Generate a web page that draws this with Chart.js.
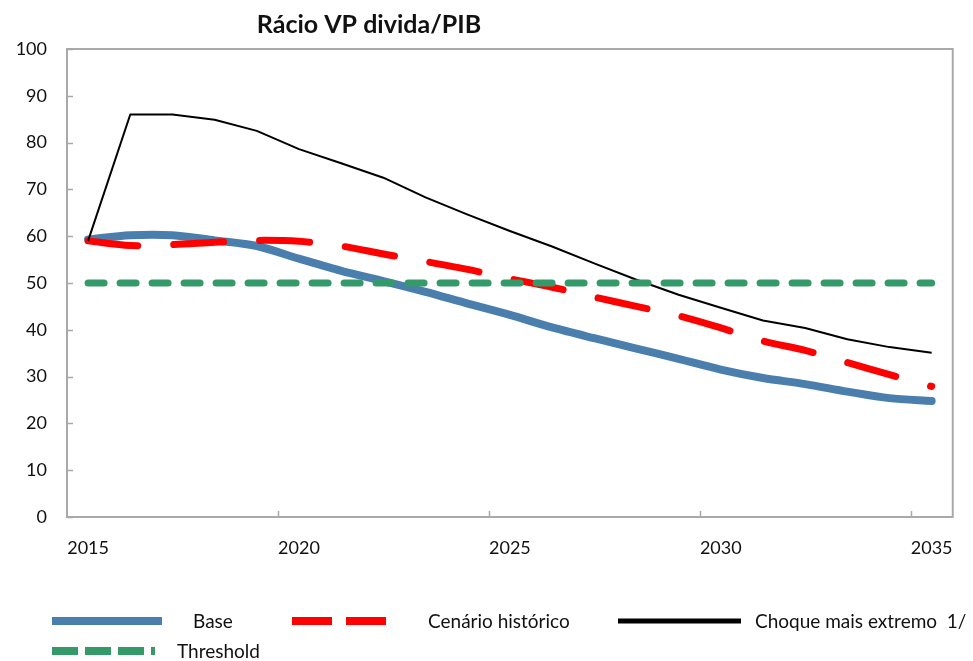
<!DOCTYPE html>
<html>
<head>
<meta charset="utf-8">
<script src="https://cdn.jsdelivr.net/npm/chart.js@4"></script>
<style>
  html, body { margin: 0; padding: 0; background: #ffffff; }
  #wrap { width: 973px; height: 661px; }
</style>
</head>
<body>
<div id="wrap"><canvas id="chart" width="973" height="661"></canvas></div>
<script>
// Debt-to-GDP (present value) ratio, 2015-2035
const years = ['2015','2016','2017','2018','2019','2020','2021','2022','2023','2024','2025',
               '2026','2027','2028','2029','2030','2031','2032','2033','2034','2035'];
const base      = [59.3, 60.2, 60.2, 59.1, 57.9, 55.2, 52.6, 50.4, 48.1, 45.6, 43.2,
                   40.5, 38.2, 36.0, 33.8, 31.5, 29.7, 28.4, 26.8, 25.4, 24.8];
const historico = [59.0, 58.0, 58.2, 58.7, 59.1, 58.9, 57.9, 56.2, 54.6, 52.9, 50.9,
                   49.1, 47.0, 45.0, 43.0, 40.4, 37.6, 35.6, 33.0, 30.4, 27.9];
const choque    = [59.0, 86.0, 86.0, 84.9, 82.5, 78.6, 75.6, 72.5, 68.3, 64.6, 61.1,
                   57.8, 54.2, 50.7, 47.5, 44.7, 42.0, 40.4, 38.0, 36.3, 35.1];
const threshold = [50, 50, 50, 50, 50, 50, 50, 50, 50, 50, 50,
                   50, 50, 50, 50, 50, 50, 50, 50, 50, 50];
const yTicks = [0, 10, 20, 30, 40, 50, 60, 70, 80, 90, 100];
const seriesNames = ['Base', 'Cenário histórico', 'Choque mais extremo  1/', 'Threshold'];
const chartTitle = 'Rácio VP divida/PIB';

const FONT = 'Lato, "Open Sans", sans-serif';
const AXIS_GRAY = '#a9a9a9';
const TEXT = '#111111';

// plot frame plus inward-pointing tick marks
const framePlugin = {
  id: 'frame',
  afterDatasetsDraw(chart) {
    const { ctx, chartArea: a, scales: { x, y } } = chart;
    ctx.save();
    ctx.strokeStyle = AXIS_GRAY;
    ctx.lineWidth = 2;
    ctx.strokeRect(a.left, a.top, a.right - a.left, a.bottom - a.top);
    ctx.beginPath();
    yTicks.forEach(v => {
      const py = Math.round(y.getPixelForValue(v)) + 0.5;
      ctx.moveTo(a.left, py);
      ctx.lineTo(a.left + 6, py);
    });
    years.forEach((yr, i) => {
      if (i > 0 && i % 5 === 0) {
        const px = Math.round((x.getPixelForValue(i - 1) + x.getPixelForValue(i)) / 2) + 0.5;
        ctx.moveTo(px, a.bottom);
        ctx.lineTo(px, a.bottom - 6);
      }
    });
    ctx.lineWidth = 1.5;
    ctx.stroke();
    ctx.restore();
  }
};

// title placed over the left part of the plot
const titlePlugin = {
  id: 'leftTitle',
  afterDraw(chart) {
    const { ctx } = chart;
    ctx.save();
    ctx.font = 'bold 25px ' + FONT;
    ctx.fillStyle = TEXT;
    ctx.textAlign = 'center';
    ctx.textBaseline = 'alphabetic';
    ctx.fillText(chartTitle, 369, 33);
    ctx.restore();
  }
};

// legend with long line samples, two rows
const legendPlugin = {
  id: 'lineLegend',
  afterDraw(chart) {
    const { ctx } = chart;
    const ds = chart.data.datasets;
    const items = [
      { d: ds[0], x0: 52,  x1: 162, y: 621, w: 8, dash: [],       tx: 193 },
      { d: ds[1], x0: 292, x1: 388, y: 621, w: 8, dash: [40, 14], tx: 428 },
      { d: ds[2], x0: 618, x1: 741, y: 621, w: 5, dash: [],       tx: 755 },
      { d: ds[3], x0: 52,  x1: 155, y: 651, w: 8, dash: [26, 7],  tx: 177 }
    ];
    ctx.save();
    items.forEach(it => {
      ctx.beginPath();
      ctx.setLineDash(it.dash);
      ctx.lineCap = 'butt';
      ctx.strokeStyle = it.d.borderColor;
      ctx.lineWidth = it.w;
      ctx.moveTo(it.x0, it.y);
      ctx.lineTo(it.x1, it.y);
      ctx.stroke();
      ctx.setLineDash([]);
      ctx.font = '19px ' + FONT;
      ctx.fillStyle = TEXT;
      ctx.textAlign = 'left';
      ctx.textBaseline = 'middle';
      ctx.fillText(it.d.label, it.tx, it.y + 1);
    });
    ctx.restore();
  }
};

new Chart(document.getElementById('chart'), {
  type: 'line',
  data: {
    labels: years,
    datasets: [
      { label: seriesNames[0], data: base, borderColor: '#4a7ead', borderWidth: 8,
        tension: 0.3, borderCapStyle: 'round', borderJoinStyle: 'round', order: 4 },
      { label: seriesNames[1], data: historico, borderColor: '#ff0000', borderWidth: 7,
        borderDash: [50, 36], tension: 0.3, borderCapStyle: 'round', borderJoinStyle: 'round', order: 3 },
      { label: seriesNames[2], data: choque, borderColor: '#000000', borderWidth: 2,
        tension: 0, borderJoinStyle: 'round', order: 2 },
      { label: seriesNames[3], data: threshold, borderColor: '#359a69', borderWidth: 7,
        borderDash: [16, 16], tension: 0, borderCapStyle: 'round', order: 1 }
    ]
  },
  options: {
    responsive: false,
    animation: false,
    devicePixelRatio: 1,
    layout: { padding: { left: 0, right: 19, top: 49, bottom: 100 } },
    elements: { point: { radius: 0, hoverRadius: 0 } },
    plugins: {
      legend: { display: false },
      title: { display: false },
      tooltip: { enabled: false }
    },
    scales: {
      x: {
        type: 'category',
        offset: true,
        grid: { display: false, drawTicks: false },
        border: { display: false },
        ticks: {
          autoSkip: false,
          maxRotation: 0,
          padding: 20,
          color: TEXT,
          font: { family: FONT, size: 18 },
          callback: (v, i) => (i % 5 === 0 ? years[i] : null)
        },
        afterFit(s) { s.height = 44; }
      },
      y: {
        min: 0,
        max: 100,
        grid: { display: false, drawTicks: false },
        border: { display: false },
        ticks: {
          stepSize: 10,
          padding: 20,
          color: TEXT,
          font: { family: FONT, size: 18 }
        },
        afterFit(s) { s.width = 67; }
      }
    }
  },
  plugins: [framePlugin, titlePlugin, legendPlugin]
});
</script>
</body>
</html>
